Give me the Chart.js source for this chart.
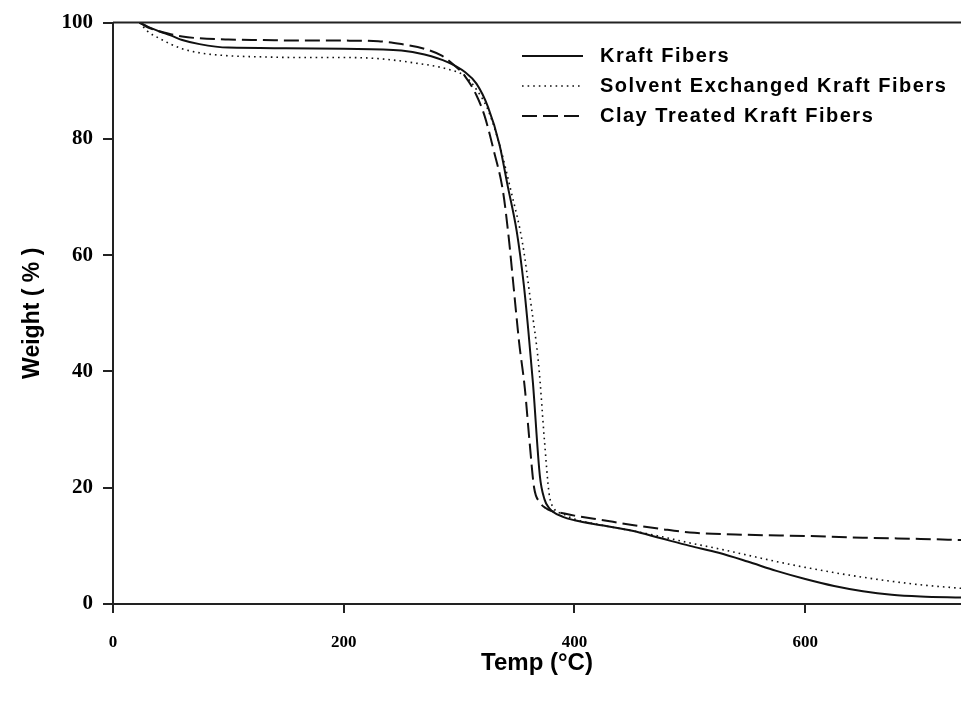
<!DOCTYPE html>
<html>
<head>
<meta charset="utf-8">
<script src="https://cdn.jsdelivr.net/npm/chart.js@4"></script>
<style>
  body { margin: 0; background: #fff; }
</style>
</head>
<body>
<canvas id="tgaChart" width="961" height="706"></canvas>
<script>
// TGA curves
const kraftTemp   = [23, 30, 40, 50, 60, 75, 100, 150, 200, 250, 270, 290, 305, 315, 325, 335, 342, 350, 356, 360, 364, 370, 374, 378, 390, 400, 425, 450, 475, 500, 525, 550, 575, 600, 625, 650, 675, 700, 735];
const kraftWeight = [100, 99.3, 98.5, 97.8, 97.0, 96.3, 95.7, 95.6, 95.5, 95.2, 94.5, 93.2, 91.5, 89.5, 85.5, 79, 72, 64, 55, 47, 38, 22, 18, 16.5, 15, 14.4, 13.5, 12.6, 11.3, 10, 8.8, 7.3, 5.7, 4.3, 3.1, 2.2, 1.6, 1.3, 1.1];

const solventTemp   = [23, 30, 40, 50, 60, 75, 100, 130, 160, 200, 230, 260, 290, 305, 315, 325, 335, 345, 355, 362, 369, 374, 378, 382, 390, 400, 425, 450, 475, 500, 525, 550, 575, 600, 625, 650, 675, 700, 735];
const solventWeight = [100, 98.5, 97.3, 96.3, 95.5, 94.8, 94.3, 94.1, 94.0, 94.0, 93.8, 93.1, 92.0, 90.8, 88.5, 85, 79, 71, 62, 52, 41, 28, 19, 16.5, 15.5, 14.6, 13.5, 12.6, 11.6, 10.5, 9.5, 8.4, 7.3, 6.3, 5.4, 4.6, 3.9, 3.3, 2.7];

const clayTemp   = [23, 30, 40, 50, 60, 75, 100, 130, 160, 200, 230, 250, 270, 285, 295, 305, 315, 322, 330, 338, 343, 347, 352, 357, 361, 365, 370, 375, 380, 390, 400, 425, 450, 475, 500, 550, 600, 650, 700, 735];
const clayWeight = [100, 99.2, 98.5, 98, 97.6, 97.3, 97.1, 97.0, 96.9, 96.9, 96.8, 96.3, 95.5, 94.3, 92.8, 90.8, 87.5, 84, 78, 71, 63, 55, 45, 37, 28, 20, 17.5, 16.5, 16, 15.6, 15.2, 14.4, 13.6, 12.9, 12.3, 11.9, 11.7, 11.4, 11.2, 11.0];

const seriesNames = ["Kraft Fibers", "Solvent Exchanged Kraft Fibers", "Clay Treated Kraft Fibers"];
const xTicks = [0, 200, 400, 600];
const yTicks = [0, 20, 40, 60, 80, 100];

function pts(xs, ys) {
  return xs.map((x, i) => ({ x: x, y: ys[i] }));
}

// legend drawn inside the plot, top right
const legendBox = {
  id: 'legendBox',
  afterDatasetsDraw(chart) {
    const ctx = chart.ctx;
    chart.data.datasets.forEach((ds, i) => {
      const y = 56 + i * 30;
      ctx.save();
      ctx.strokeStyle = ds.borderColor;
      ctx.lineWidth = ds.borderWidth;
      ctx.setLineDash(ds.borderDash || []);
      ctx.beginPath();
      ctx.moveTo(522, y);
      ctx.lineTo(583, y);
      ctx.stroke();
      ctx.setLineDash([]);
      ctx.fillStyle = '#000';
      ctx.font = 'bold 20px "Liberation Sans", Arial, sans-serif';
      ctx.letterSpacing = '1.5px';
      ctx.textBaseline = 'middle';
      ctx.fillText(ds.label, 600, y);
      ctx.restore();
    });
  }
};

// top frame line
const topFrame = {
  id: 'topFrame',
  afterDraw(chart) {
    const a = chart.chartArea, ctx = chart.ctx;
    ctx.save();
    ctx.strokeStyle = '#222';
    ctx.lineWidth = 2;
    ctx.beginPath();
    ctx.moveTo(a.left, a.top);
    ctx.lineTo(a.right, a.top);
    ctx.stroke();
    ctx.restore();
  }
};

const ctx = document.getElementById('tgaChart');

new Chart(ctx, {
  type: 'line',
  data: {
    datasets: [
      {
        label: seriesNames[0],
        data: pts(kraftTemp, kraftWeight),
        borderColor: '#111',
        borderWidth: 2,
        borderDash: []
      },
      {
        label: seriesNames[1],
        data: pts(solventTemp, solventWeight),
        borderColor: '#111',
        borderWidth: 1.6,
        borderDash: [1.6, 4]
      },
      {
        label: seriesNames[2],
        data: pts(clayTemp, clayWeight),
        borderColor: '#111',
        borderWidth: 2,
        borderDash: [15, 6]
      }
    ]
  },
  options: {
    responsive: false,
    animation: false,
    layout: { padding: { top: 22, right: 0, left: 0, bottom: 0 } },
    elements: {
      point: { radius: 0 },
      line: { cubicInterpolationMode: 'monotone' }
    },
    plugins: {
      legend: { display: false },
      tooltip: { enabled: false }
    },
    scales: {
      x: {
        type: 'linear',
        min: 0,
        max: 735,
        afterFit(scale) { scale.height = 102; },
        afterBuildTicks(scale) { scale.ticks = xTicks.map(v => ({ value: v })); },
        border: { color: '#222', width: 2 },
        grid: { drawOnChartArea: false, drawTicks: true, tickLength: 9, color: '#222', lineWidth: 2 },
        ticks: {
          padding: 19,
          color: '#000',
          maxRotation: 0,
          font: { family: '"Liberation Serif", "Times New Roman", serif', weight: 'bold', size: 17 }
        },
        title: {
          display: true,
          text: 'Temp (°C)',
          color: '#000',
          padding: { top: 0, bottom: 28 },
          font: { family: '"Liberation Sans", Arial, sans-serif', weight: 'bold', size: 24 }
        }
      },
      y: {
        min: 0,
        max: 100,
        afterFit(scale) { scale.width = 113; },
        afterBuildTicks(scale) { scale.ticks = yTicks.map(v => ({ value: v })); },
        border: { color: '#222', width: 2 },
        grid: { drawOnChartArea: false, drawTicks: true, tickLength: 10, color: '#222', lineWidth: 2 },
        ticks: {
          padding: 10,
          color: '#000',
          font: { family: '"Liberation Serif", "Times New Roman", serif', weight: 'bold', size: 21 }
        },
        title: {
          display: true,
          text: 'Weight ( % )',
          color: '#000',
          padding: { top: 19, bottom: 0 },
          font: { family: '"Liberation Sans", Arial, sans-serif', weight: 'bold', size: 23 }
        }
      }
    }
  },
  plugins: [legendBox, topFrame]
});
</script>
</body>
</html>
